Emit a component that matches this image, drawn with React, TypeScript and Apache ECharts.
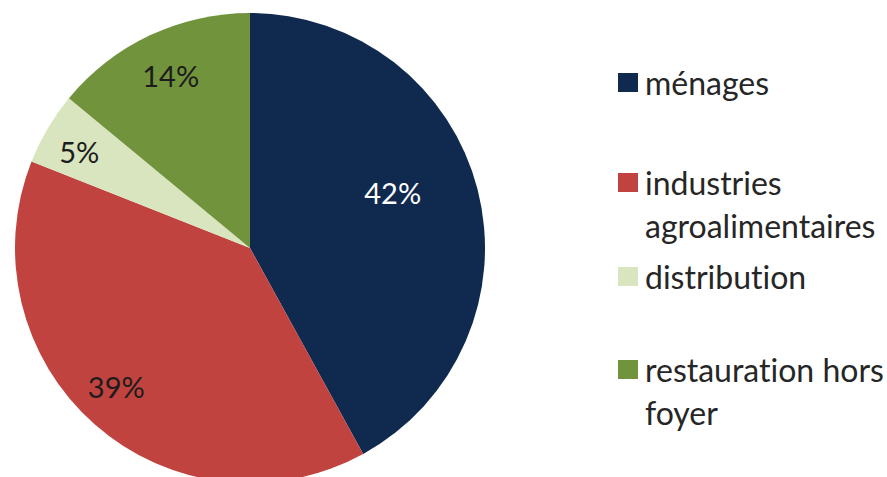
import React, { useEffect, useRef } from "react";
import * as echarts from "echarts";

const categories = ["ménages", "industries agroalimentaires", "distribution", "restauration hors foyer"];
const legendLabels = ["ménages", "industries\nagroalimentaires", "distribution", "restauration hors\nfoyer"];
const values = [42, 39, 5, 14];
const colors = ["#10294f", "#c0433f", "#d8e5be", "#71933c"];
const labelColors = ["#ffffff", "#1c1c1c", "#1c1c1c", "#1c1c1c"];

const FONT = "Lato, 'Open Sans', sans-serif";
const labelShift = [
  [26, -26],
  [-54, 48],
  [-67, -35],
  [-28, -63],
];
const legendTops = [61, 118, 255, 305];

export default function App() {
  const ref = useRef<HTMLDivElement>(null);
  useEffect(() => {
    if (!ref.current) return;
    const chart = echarts.init(ref.current, null, { renderer: "svg" });
    const legends = categories.map((name, i) => {
      const twoLine = legendLabels[i].includes("\n");
      return {
        show: true,
        data: [name],
        left: 618,
        top: legendTops[i],
        padding: 0,
        orient: "vertical",
        icon: "rect",
        itemWidth: 20,
        itemHeight: 19,
        itemGap: 0,
        selectedMode: false,
        formatter: () => (twoLine ? " \n" + legendLabels[i] : legendLabels[i]),
        textStyle: {
          fontFamily: FONT,
          fontSize: 32,
          color: "#262626",
          lineHeight: 43,
          padding: [0, 0, 0, 2],
        },
      };
    });
    chart.setOption({
      animation: false,
      backgroundColor: "#ffffff",
      legend: legends,
      series: [
        {
          type: "pie",
          center: [250, 248],
          radius: 235,
          startAngle: 90,
          clockwise: true,
          avoidLabelOverlap: false,
          emphasis: { disabled: true },
          labelLine: { show: false },
          itemStyle: { borderWidth: 0 },
          label: {
            show: true,
            position: "inside",
            formatter: "{c}%",
            fontFamily: FONT,
            fontSize: 29,
          },
          labelLayout: (p: any) => ({
            dx: labelShift[p.dataIndex][0],
            dy: labelShift[p.dataIndex][1],
          }),
          data: categories.map((name, i) => ({
            name,
            value: values[i],
            itemStyle: { color: colors[i] },
            label: { color: labelColors[i] },
          })),
        },
      ],
    });
    return () => chart.dispose();
  }, []);
  return (
    <>
      <style>{"text { font-variant-ligatures: none !important; font-feature-settings: 'liga' 0, 'clig' 0 !important; }"}</style>
      <div
        ref={ref}
        style={{ position: "fixed", left: 0, top: 0, width: 887, height: 477 }}
      />
    </>
  );
}
